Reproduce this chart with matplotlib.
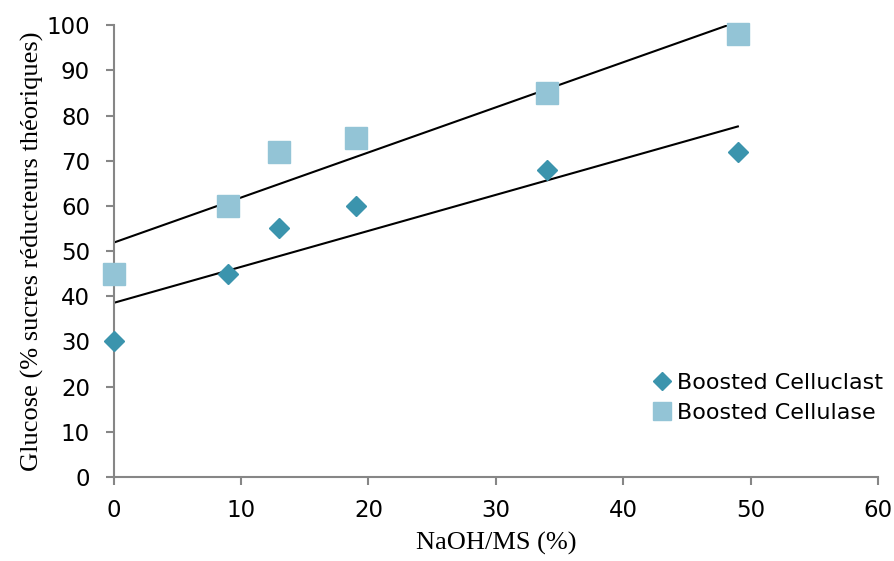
import numpy as np
import matplotlib
matplotlib.use("Agg")
import matplotlib.pyplot as plt

naoh = [0, 9, 13, 19, 34, 49]
celluclast = [30, 45, 55, 60, 68, 72]
cellulase = [45, 60, 72, 75, 85, 98]
xticks = [0, 10, 20, 30, 40, 50, 60]
yticks = list(range(0, 101, 10))

gray = "#868686"

fig = plt.figure(figsize=(8.95, 5.61), dpi=100)
ax = fig.add_axes([0.127, 0.150, 0.854, 0.805])

ax.plot(naoh, celluclast, linestyle="none", marker="D", ms=10.5,
        color="#3b94ad", label="Boosted Celluclast", zorder=3, clip_on=False)
ax.plot(naoh, cellulase, linestyle="none", marker="s", ms=15.5,
        color="#93c4d6", label="Boosted Cellulase", zorder=3, clip_on=False)

# linear trend lines, like excel
for ys in (celluclast, cellulase):
    b, a = np.polyfit(naoh, ys, 1)
    xs = np.array([min(naoh), max(naoh)])
    ax.plot(xs, a + b * xs, color="black", lw=1.5, zorder=2)

ax.set_xlim(0, 60)
ax.set_ylim(0, 100)
ax.set_xticks(xticks)
ax.set_yticks(yticks)
for s in ("top", "right"):
    ax.spines[s].set_visible(False)
for s in ("left", "bottom"):
    ax.spines[s].set_color(gray)
    ax.spines[s].set_linewidth(1.5)
ax.tick_params(direction="out", length=6, width=1.5, color=gray,
               labelsize=16.5)
ax.tick_params(axis="x", pad=10)
ax.tick_params(axis="y", pad=11)
for lab in ax.get_xticklabels() + ax.get_yticklabels():
    lab.set_fontfamily("DejaVu Sans")

ax.set_xlabel("NaOH/MS (%)", family="Liberation Serif", fontsize=19, labelpad=7)
ax.set_ylabel("Glucose (% sucres réducteurs théoriques)", family="Liberation Serif",
              fontsize=19, labelpad=2)

ax.legend(loc="upper left", bbox_to_anchor=(0.727, 0.336),
          bbox_transform=fig.transFigure, frameon=False,
          borderaxespad=0, borderpad=0, markerscale=0.85,
          prop={"family": "DejaVu Sans", "size": 16}, handletextpad=0.2,
          handlelength=1.0, labelspacing=0.45)

fig.savefig("out.png", dpi=100)
